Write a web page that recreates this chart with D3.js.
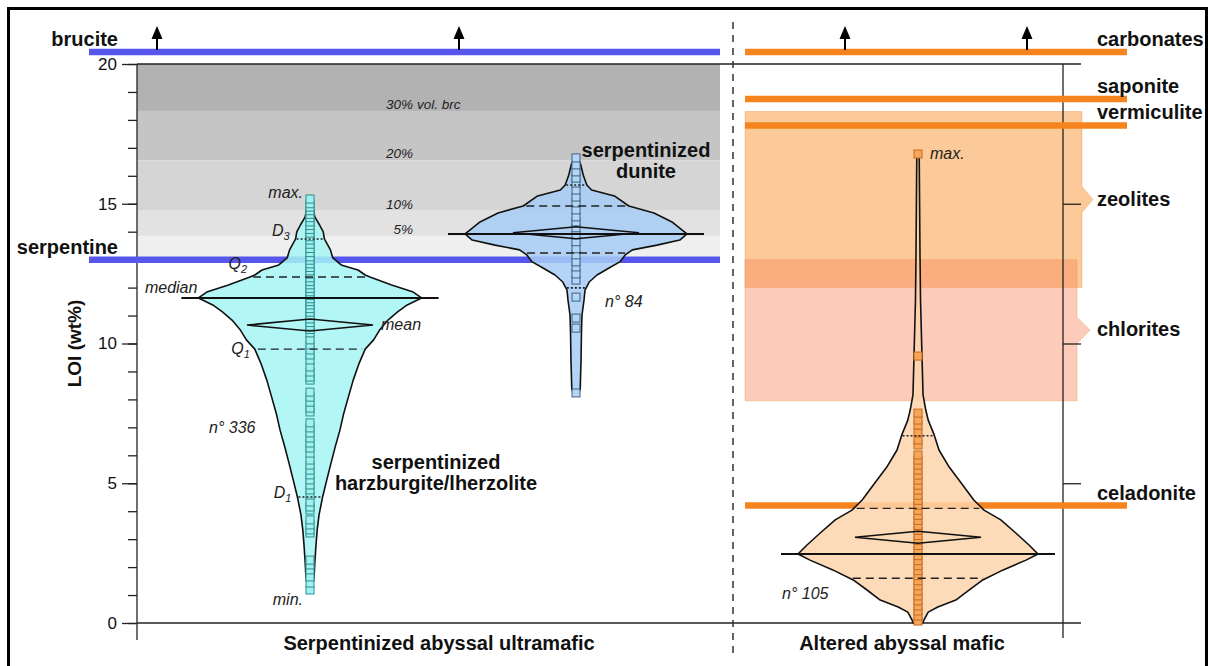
<!DOCTYPE html>
<html><head><meta charset="utf-8">
<script src="https://cdn.jsdelivr.net/npm/d3@7"></script>
<style>
html,body{margin:0;padding:0;background:#fff;}
svg{display:block;}
</style></head><body>
<svg id="chart" width="1210" height="666"></svg>
<script>
// ================= DATA =================
const groups = ["harzburgite", "dunite", "mafic"];
const sectionLabels = ["Serpentinized abyssal ultramafic", "Altered abyssal mafic"];
const yMajorTicks = [0, 5, 10, 15, 20];
const yMinorTicks = [0,1,2,3,4,5,6,7,8,9,10,11,12,13,14,15,16,17,18,19,20];
const rightTicks = [5, 10, 15];

// reference mineral LOI lines
const ultramaficMinerals = ["brucite", "serpentine"];
const ultramaficMineralLOI = [31, 13];
const maficMinerals = ["carbonates", "saponite", "vermiculite", "celadonite"];
const maficMineralLOI = [44, 18.75, 17.8, 4.2];
const maficRanges = ["zeolites", "chlorites"];
const maficRangeLow = [12.0, 7.95];
const maficRangeHigh = [18.3, 13.0];

// serpentine + brucite mixtures
const brucitePct = ["30%", "20%", "10%", "5%", ""];
const brucitePctSuffix = ["vol. brc", "", "", "", ""];
const bruciteBandLow = [18.32, 16.55, 14.75, 13.85, 13.0];
const bruciteBandHigh = [20, 18.32, 16.55, 14.75, 13.85];

// density profiles [LOI, relative density]
const harzDensity = [[1.14,0.01],[1.36,0.025],[1.72,0.035],[2.15,0.04],[2.79,0.05],[3.33,0.06],[3.86,0.075],[4.51,0.105],[5.12,0.14],[5.72,0.175],[6.30,0.21],[6.91,0.25],[7.48,0.28],[8.09,0.32],[8.69,0.36],[9.30,0.41],[9.80,0.46],[10.13,0.53],[10.48,0.58],[10.84,0.65],[11.13,0.73],[11.38,0.81],[11.63,0.93],[11.84,0.86],[12.09,0.68],[12.38,0.50],[12.45,0.46],[12.63,0.40],[12.81,0.26],[12.92,0.23],[13.06,0.19],[13.35,0.17],[13.74,0.12],[13.99,0.11],[14.24,0.08],[14.53,0.04],[14.85,0.025],[15.17,0.01]];
const duniteDensity = [[8.19,0.01],[8.34,0.035],[9.41,0.042],[10.48,0.046],[11.02,0.05],[11.56,0.067],[11.91,0.075],[12.20,0.11],[12.45,0.175],[12.70,0.275],[12.92,0.365],[13.17,0.41],[13.35,0.47],[13.52,0.675],[13.70,0.865],[13.92,0.925],[14.06,0.885],[14.35,0.80],[14.67,0.65],[14.92,0.44],[15.28,0.32],[15.49,0.13],[15.67,0.09],[16.03,0.06],[16.39,0.04],[16.64,0.01]];
const maficDensity = [[0.0,0.04],[0.11,0.05],[0.39,0.085],[0.57,0.165],[0.82,0.315],[1.18,0.425],[1.54,0.54],[1.90,0.71],[2.25,0.90],[2.47,1.0],[2.79,0.925],[3.22,0.815],[3.69,0.69],[4.04,0.55],[4.40,0.465],[5.01,0.36],[5.58,0.26],[6.19,0.175],[6.73,0.135],[7.26,0.085],[7.62,0.065],[8.16,0.042],[9.59,0.033],[11.56,0.021],[12.99,0.017],[15.13,0.013],[16.78,0.01]];

// summary statistics
const statMedian = [11.63, 13.92, 2.47];
const statMean   = [10.66, 13.96, 3.07];
const statQ1     = [9.80, 13.24, 1.60];
const statQ3     = [12.38, 14.92, 4.10];
const statD1     = [4.51, 11.99, null];
const statD9     = [13.74, 15.67, 6.70];
const statMin    = [1.18, 8.23, 0.05];
const statMax    = [15.17, 16.64, 16.78];
const statN      = [336, 84, 105];

// individual samples (visible squares)
const harzSamples = [1.18,1.43,1.65,1.90,2.08,2.25,3.22,3.33,3.51,3.69,4.04,4.15,4.33,4.58,4.76,4.94,5.12,5.30,5.47,5.65,5.83,6.08,6.26,6.44,6.62,6.80,6.98,7.16,7.55,7.69,7.90,8.08,8.26,8.69,8.80,8.98,9.16,9.41,9.59,9.77,9.95,10.13,10.38,10.5,10.62,10.75,10.88,11.0,11.12,11.25,11.38,11.5,11.6,11.72,11.85,11.97,12.1,12.22,12.35,12.48,12.6,12.72,12.85,12.98,13.1,13.25,13.4,13.55,13.7,13.82,13.95,14.08,14.22,14.35,14.5,14.62,14.75,14.88,15.0,15.17];
const duniteSamples = [8.23,10.55,10.91,11.66,12.27,12.49,12.74,12.92,13.17,13.39,13.64,13.89,14.14,14.35,14.53,14.78,15.03,15.24,15.49,15.74,15.92,16.14,16.39,16.64];
const maficSamples = [0.07,0.25,0.43,0.61,0.79,0.97,1.15,1.33,1.51,1.69,1.87,2.05,2.23,2.41,2.59,2.77,2.95,3.13,3.31,3.49,3.67,3.85,4.03,4.21,4.39,4.57,4.75,4.93,5.11,5.29,5.47,5.65,5.83,6.01,6.37,6.55,6.80,7.08,7.26,7.51,9.55,16.78];

// ================= LAYOUT / STYLE =================
const FONT = '"Liberation Sans", Arial, Helvetica, sans-serif';
const plotLeft = 137, plotRight = 1063, plotTop = 64, plotBottom = 623;
const sepX = 733;
const svg = d3.select("#chart").attr("font-family", FONT);

const y = d3.scaleLinear().domain([0, 20]).range([plotBottom, plotTop]);
const x = d3.scaleOrdinal().domain(groups).range([310, 576, 918]);
const w = d3.scaleLinear().domain([0, 1]).range([0, 120]);
const sectionX = d3.scaleOrdinal().domain(sectionLabels).range([439, 902]);

const densities = [harzDensity, duniteDensity, maficDensity];
const samples = [harzSamples, duniteSamples, maficSamples];
const violinFill = ["#a4f4f4", "#a6cdf4", "#fdd4ab"];
const sqFill = ["#a2f0ef", "#b4d6f6", "#f6a658"];
const sqStroke = ["#2f8f8f", "#40607f", "#c46a20"];
const grayFills = ["#b2b2b2", "#c5c5c5", "#d5d5d5", "#e2e2e2", "#efefef"];
const BLUE = "#5656ec", ORANGE = "#f5841f";
const clampY = y(20) - 12;
const lineY = v => v > 20 ? clampY : y(v);

function densAt(profile, v) {
  for (let i = 0; i < profile.length - 1; i++) {
    const a = profile[i], b = profile[i + 1];
    if (v >= a[0] && v <= b[0]) return a[1] + (b[1] - a[1]) * (v - a[0]) / (b[0] - a[0]);
  }
  return 0;
}

// ---- frame ----
svg.append("rect").attr("x", 8.5).attr("y", 8.5).attr("width", 1198).attr("height", 700)
  .attr("fill", "none").attr("stroke", "#000").attr("stroke-width", 3);

// ---- brucite mixture bands ----
svg.append("g").selectAll("rect").data(bruciteBandLow).join("rect")
  .attr("x", plotLeft).attr("width", 720 - plotLeft)
  .attr("y", (d, i) => y(bruciteBandHigh[i]))
  .attr("height", (d, i) => y(d) - y(bruciteBandHigh[i]))
  .attr("fill", (d, i) => grayFills[i]);

// ---- mafic mineral ranges ----
const rangeX1 = [1082, 1077], rangeApex = [1093, 1090];
const rangeFill = ["rgba(250,150,50,0.5)", "rgba(248,140,100,0.45)"];
svg.append("g").selectAll("path").data(maficRanges).join("path")
  .attr("d", (d, i) => {
    const yt = y(maficRangeHigh[i]), yb = y(maficRangeLow[i]), ym = (yt + yb) / 2;
    return `M745,${yt}H${rangeX1[i]}V${ym - 13}L${rangeApex[i]},${ym}L${rangeX1[i]},${ym + 13}V${yb}H745Z`;
  })
  .attr("fill", (d, i) => rangeFill[i])
  .attr("stroke", "rgba(235,140,70,0.35)").attr("stroke-width", 1);

// ---- axes ----
const axisColor = "#222";
const gMinor = svg.append("g").attr("transform", `translate(${plotLeft},0)`)
  .call(d3.axisLeft(y).tickValues(yMinorTicks).tickSize(9).tickFormat(""));
gMinor.select(".domain").remove();
const gMajor = svg.append("g").attr("transform", `translate(${plotLeft},0)`)
  .call(d3.axisLeft(y).tickValues(yMajorTicks).tickSize(15).tickPadding(5));
gMajor.select(".domain").remove();
gMajor.selectAll("text").attr("font-size", 17).attr("font-family", FONT).attr("fill", "#111");
const gRight = svg.append("g").attr("transform", `translate(${plotRight},0)`)
  .call(d3.axisRight(y).tickValues(rightTicks).tickSize(18).tickFormat(""));
gRight.select(".domain").remove();
svg.selectAll(".tick line").attr("stroke", axisColor).attr("stroke-width", 1.3);

const frameLines = [
  [plotLeft, y(20), plotLeft, 640],
  [plotRight, y(20), plotRight, 638],
  [plotLeft, y(20), 1081, y(20)],
  [plotLeft, y(0), 1081, y(0)]
];
svg.append("g").selectAll("line").data(frameLines).join("line")
  .attr("x1", d => d[0]).attr("y1", d => d[1]).attr("x2", d => d[2]).attr("y2", d => d[3])
  .attr("stroke", axisColor).attr("stroke-width", 1.3);

// separator
svg.append("line").attr("x1", sepX).attr("x2", sepX).attr("y1", 22).attr("y2", 655)
  .attr("stroke", "#333").attr("stroke-width", 1.5).attr("stroke-dasharray", "7,6");

// ---- mineral reference lines ----
function mineralLines(names, vals, x0, x1, color, arrowXs, labelX, anchor) {
  const g = svg.append("g");
  g.selectAll("line").data(vals).join("line")
    .attr("x1", x0).attr("x2", x1)
    .attr("y1", d => lineY(d)).attr("y2", d => lineY(d))
    .attr("stroke", color).attr("stroke-width", 6.5);
  vals.forEach((v, i) => {
    if (v > 20) {
      arrowXs.forEach(ax => {
        g.append("line").attr("x1", ax).attr("x2", ax).attr("y1", clampY - 2).attr("y2", 36)
          .attr("stroke", "#000").attr("stroke-width", 2);
        g.append("path").attr("d", `M${ax},26L${ax - 5.5},39L${ax + 5.5},39Z`).attr("fill", "#000");
      });
    }
  });
  g.selectAll("text").data(names).join("text")
    .attr("x", labelX).attr("y", (d, i) => lineY(vals[i]) - 6)
    .attr("text-anchor", anchor).attr("font-size", 20).attr("font-weight", "bold").attr("fill", "#111")
    .text(d => d);
}
mineralLines(ultramaficMinerals, ultramaficMineralLOI, 89, 720, BLUE, [157, 459], 118, "end");
mineralLines(maficMinerals, maficMineralLOI, 745, 1127, ORANGE, [845, 1027], 1097, "start");

// range labels
svg.append("g").selectAll("text").data(maficRanges).join("text")
  .attr("x", 1097).attr("y", (d, i) => (y(maficRangeHigh[i]) + y(maficRangeLow[i])) / 2 + 6)
  .attr("font-size", 20).attr("font-weight", "bold").attr("fill", "#111").text(d => d);

// brucite % labels
const pctG = svg.append("g").attr("font-size", 13.5).attr("font-style", "italic").attr("fill", "#222");
brucitePct.forEach((p, i) => {
  if (!p) return;
  pctG.append("text").attr("x", 413).attr("y", y(bruciteBandLow[i]) - 2).attr("text-anchor", "end").text(p);
  if (brucitePctSuffix[i]) pctG.append("text").attr("x", 417).attr("y", y(bruciteBandLow[i]) - 2).text(brucitePctSuffix[i]);
});

// ---- violins ----
groups.forEach((g, gi) => {
  const cx = x(g);
  const prof = densities[gi];
  const area = d3.area().y(d => y(d[0])).x0(d => cx - w(d[1])).x1(d => cx + w(d[1])).curve(d3.curveLinear);
  svg.append("path").datum(prof).attr("d", area)
    .attr("fill", violinFill[gi]).attr("fill-opacity", 0.85)
    .attr("stroke", "#111").attr("stroke-width", 1.6).attr("stroke-linejoin", "round");

  // samples
  svg.append("g").selectAll("rect").data(samples[gi]).join("rect")
    .attr("x", cx - 4).attr("y", d => y(d) - 4).attr("width", 8).attr("height", 8)
    .attr("fill", sqFill[gi]).attr("stroke", sqStroke[gi]).attr("stroke-width", 1);

  // quartiles (dashed)
  [statQ1[gi], statQ3[gi]].forEach(q => {
    const hw = w(densAt(prof, q)) - 3;
    svg.append("line").attr("x1", cx - hw).attr("x2", cx + hw).attr("y1", y(q)).attr("y2", y(q))
      .attr("stroke", "#222").attr("stroke-width", 1.4).attr("stroke-dasharray", "8,5");
  });
  // deciles (dotted)
  [statD1[gi], statD9[gi]].forEach(q => {
    if (q == null) return;
    const hw = w(densAt(prof, q)) - 1;
    svg.append("line").attr("x1", cx - hw).attr("x2", cx + hw).attr("y1", y(q)).attr("y2", y(q))
      .attr("stroke", "#222").attr("stroke-width", 1.6).attr("stroke-dasharray", "2,2");
  });
  // median
  const mhw = w(densAt(prof, statMedian[gi])) + 17;
  svg.append("line").attr("x1", cx - mhw).attr("x2", cx + mhw)
    .attr("y1", y(statMedian[gi])).attr("y2", y(statMedian[gi]))
    .attr("stroke", "#111").attr("stroke-width", 2);
  // mean diamond
  const my = y(statMean[gi]);
  svg.append("path").attr("d", `M${cx - 63},${my}L${cx},${my - 6}L${cx + 63},${my}L${cx},${my + 6}Z`)
    .attr("fill", "none").attr("stroke", "#111").attr("stroke-width", 1.6);
});

// ---- annotations ----
const ann = svg.append("g").attr("font-size", 16).attr("font-style", "italic").attr("fill", "#222");
function subLabel(letter, sub, xEnd, base) {
  const t = ann.append("text").attr("x", xEnd).attr("y", base).attr("text-anchor", "end");
  t.append("tspan").text(letter);
  t.append("tspan").attr("font-size", 11).attr("dy", 4).text(sub);
}
{
  const gi = 0, cx = x(groups[gi]), prof = densities[gi];
  ann.append("text").attr("x", cx - 7).attr("y", y(statMax[gi]) - 1).attr("text-anchor", "end").text("max.");
  ann.append("text").attr("x", cx - 7).attr("y", y(statMin[gi]) + 15).attr("text-anchor", "end").text("min.");
  subLabel("D", "3", cx - w(densAt(prof, statD9[gi])) - 6, y(statD9[gi]) - 3);
  subLabel("Q", "2", cx - w(densAt(prof, statQ3[gi])) - 3, y(statQ3[gi]) - 8);
  subLabel("Q", "1", cx - w(densAt(prof, statQ1[gi])) - 5, y(statQ1[gi]) + 5);
  subLabel("D", "1", cx - w(densAt(prof, statD1[gi])) - 6, y(statD1[gi]) + 1);
  ann.append("text").attr("x", cx - w(densAt(prof, statMedian[gi])) - 1).attr("y", y(statMedian[gi]) - 5)
    .attr("text-anchor", "end").text("median");
  ann.append("text").attr("x", cx + 63 + 8).attr("y", y(statMean[gi]) + 5).text("mean");
  ann.append("text").attr("x", cx - 101).attr("y", y(6.8)).text(`n° ${statN[gi]}`);
}
ann.append("text").attr("x", x("dunite") + 29).attr("y", y(11.3)).text(`n° ${statN[1]}`);
ann.append("text").attr("x", x("mafic") - 136).attr("y", y(0.86)).text(`n° ${statN[2]}`);
ann.append("text").attr("x", x("mafic") + 12).attr("y", y(statMax[2]) + 5).text("max.");

// group titles
const titles = svg.append("g").attr("font-size", 20).attr("font-weight", "bold").attr("fill", "#111").attr("text-anchor", "middle");
function twoLine(lines, cxp, base) {
  const t = titles.append("text").attr("x", cxp).attr("y", base);
  lines.forEach((l, i) => t.append("tspan").attr("x", cxp).attr("dy", i ? 21 : 0).text(l));
}
twoLine(["serpentinized", "harzburgite/lherzolite"], x("harzburgite") + 126, y(5.5));
twoLine(["serpentinized", "dunite"], x("dunite") + 70, y(16.68));

// section labels
svg.append("g").selectAll("text").data(sectionLabels).join("text")
  .attr("x", d => sectionX(d)).attr("y", 650).attr("text-anchor", "middle")
  .attr("font-size", 20).attr("font-weight", "bold").attr("fill", "#111").text(d => d);

// y title
svg.append("text").attr("transform", `translate(81,${(plotTop + plotBottom) / 2}) rotate(-90)`)
  .attr("text-anchor", "middle").attr("font-size", 19).attr("font-weight", "bold").attr("fill", "#111")
  .text("LOI (wt%)");
</script>
</body></html>
